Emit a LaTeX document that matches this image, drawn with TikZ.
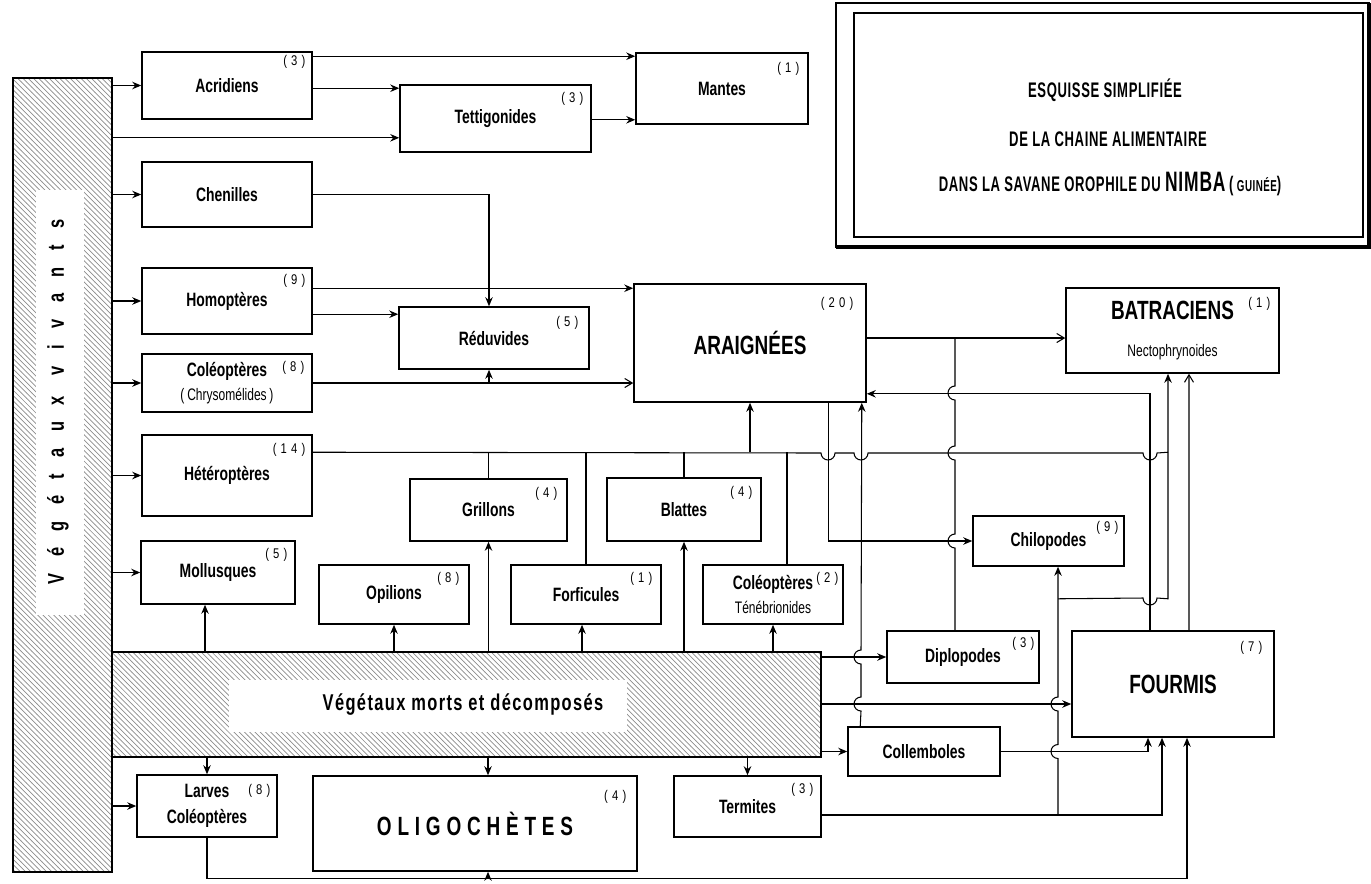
\documentclass[tikz,border=0pt]{standalone}
\usepackage{fontspec}
\setmainfont{Liberation Sans}[FakeStretch=0.72]
\newfontfamily\countfont{Liberation Sans}[FakeStretch=0.8, LetterSpace=30]
\newfontfamily\bandfont{Liberation Sans}[FakeStretch=0.72, LetterSpace=6]
\newfontfamily\columnfont{Liberation Sans}[FakeStretch=0.72, LetterSpace=72]
\newfontfamily\oligofont{Liberation Sans}[FakeStretch=0.72, LetterSpace=22]
\newfontfamily\titlefont{Liberation Sans}[FakeStretch=0.62, LetterSpace=3]
\usepackage{tikz}
\usetikzlibrary{arrows.meta, patterns}
\tikzset{
  % Box styles
  boxnode/.style={rectangle, draw, line width=0.9pt, inner sep=0pt, align=center, font=\bfseries\fontsize{11}{13}\selectfont},
  bignode/.style={boxnode, font=\bfseries\fontsize{15}{18}\selectfont},
  hatchbox/.style={rectangle, draw, line width=0.9pt, inner sep=0pt, pattern=north west lines, pattern color=black!45},
  countlabel/.style={anchor=north east, inner sep=0pt, font=\countfont\fontsize{8}{9}\selectfont},
  titleline/.style={inner sep=0pt, font=\titlefont\bfseries\fontsize{12}{14}\selectfont},
  % Arrow styles
  link/.style={line width=0.6pt},
  arr/.style={-{Stealth[length=1.8mm, width=1.5mm]}, line width=0.6pt},
  openarr/.style={-{Straight Barb[length=1.5mm, width=1.8mm]}, line width=0.6pt}
}
\newcommand\subfont{\mdseries\fontsize{9.5}{11}\selectfont}
% line hops: horizontal dips under, vertical bulges left
\newcommand\hopH[2]{-- ({#1-7},#2) arc[start angle=180, end angle=360, radius=0.14cm]}
\newcommand\hopU[2]{-- (#1,{#2+7}) arc[start angle=270, end angle=90, radius=0.14cm]}
\newcommand\nbr[3][-0.16cm,-0.16cm]{\node[countlabel] at ([shift={(#1)}]#2.north east) {(#3)};}

\begin{document}
\begin{tikzpicture}[x=0.02cm, y=-0.02cm]
  \useasboundingbox (0,0) rectangle (1371,883);

  % Plant reservoirs
  \node[hatchbox, minimum width=1.98cm, minimum height=15.88cm] (vv) at (62.5,475) {};
  \fill[white] (36,190) rectangle (84,615);
  \node[rotate=90, inner sep=0pt, font=\columnfont\bfseries\fontsize{13}{15}\selectfont] at (58,402) {Végétaux vivants};
  \node[hatchbox, minimum width=14.18cm, minimum height=2.1cm] (vm) at (466.5,704.5) {};
  \fill[white] (229,680) rectangle (627,732);
  \node[inner sep=0pt, font=\bandfont\bfseries\fontsize{13}{15}\selectfont] at (463,705) {Végétaux morts et décomposés};

  % Consumers
  \node[boxnode, minimum width=3.4cm, minimum height=1.34cm] (acri) at (227,85.5) {Acridiens};
  \node[boxnode, minimum width=3.82cm, minimum height=1.34cm] (tett) at (495.5,118.5) {Tettigonides};
  \node[boxnode, minimum width=3.44cm, minimum height=1.42cm] (mant) at (722,88.5) {Mantes};
  \node[boxnode, minimum width=3.4cm, minimum height=1.3cm] (chen) at (227,194.5) {Chenilles};
  \node[boxnode, minimum width=3.4cm, minimum height=1.32cm] (homo) at (227,301) {Homoptères};
  \node[boxnode, minimum width=3.8cm, minimum height=1.24cm] (redu) at (494,338) {Réduvides};
  \node[bignode, minimum width=4.64cm, minimum height=2.36cm] (arai) at (750,343) {ARAIGNÉES};
  \node[boxnode, minimum width=3.4cm, minimum height=1.16cm] (colc) at (227,383) {Coléoptères\\[1pt]{\subfont(\,Chrysomélides\,)}};
  \node[boxnode, minimum width=3.4cm, minimum height=1.62cm] (hete) at (227,475.5) {Hétéroptères};
  \node[boxnode, minimum width=3.08cm, minimum height=1.26cm] (moll) at (218,572.5) {Mollusques};
  \node[boxnode, minimum width=3.14cm, minimum height=1.24cm] (gril) at (488.5,510) {Grillons};
  \node[boxnode, minimum width=3.08cm, minimum height=1.26cm] (blat) at (684,509.5) {Blattes};
  \node[boxnode, minimum width=3cm, minimum height=1.18cm] (opil) at (394,594.5) {Opilions};
  \node[boxnode, minimum width=3cm, minimum height=1.18cm] (forf) at (586,594.5) {Forficules};
  \node[boxnode, minimum width=2.8cm, minimum height=1.18cm] (colt) at (773,594.5) {Coléoptères\\[1pt]{\subfont Ténébrionides}};
  \node[boxnode, minimum width=2.8cm, minimum height=1.24cm] (larv) at (207,806) {Larves\\[2pt]Coléoptères};
  \node[boxnode, minimum width=6.48cm, minimum height=1.9cm, font=\oligofont\bfseries\fontsize{15}{18}\selectfont] (olig) at (475,823.5) {OLIGOCHÈTES};
  \node[boxnode, minimum width=2.94cm, minimum height=1.22cm] (term) at (747.5,806.5) {Termites};
  \node[boxnode, minimum width=3.02cm, minimum height=1cm] (chil) at (1048.5,541) {Chilopodes};
  \node[boxnode, minimum width=3.04cm, minimum height=1.04cm] (dipl) at (963,657) {Diplopodes};
  \node[bignode, minimum width=4.04cm, minimum height=2.12cm] (four) at (1173,684) {FOURMIS};
  \node[boxnode, minimum width=3.04cm, minimum height=0.98cm] (coll) at (924,751.5) {Collemboles};
  \node[bignode, minimum width=4.26cm, minimum height=1.7cm] (batr) at (1172.5,330.5) {BATRACIENS\\[3pt]{\subfont Nectophrynoides}};

  % Species counts
  \nbr[-0.14cm,-0.08cm]{acri}{3}
  \nbr{tett}{3}
  \nbr[-0.18cm,-0.2cm]{mant}{1}
  \nbr[-0.14cm,-0.14cm]{homo}{9}
  \nbr[-0.22cm,-0.2cm]{redu}{5}
  \nbr[-0.26cm,-0.28cm]{arai}{20}
  \nbr{colc}{8}
  \nbr[-0.14cm,-0.18cm]{hete}{14}
  \nbr{moll}{5}
  \nbr[-0.2cm,-0.18cm]{gril}{4}
  \nbr[-0.18cm,-0.18cm]{blat}{4}
  \nbr[-0.2cm,-0.16cm]{opil}{8}
  \nbr[-0.18cm,-0.16cm]{forf}{1}
  \nbr[-0.1cm,-0.16cm]{colt}{2}
  \nbr[-0.14cm,-0.2cm]{larv}{8}
  \nbr[-0.22cm,-0.3cm]{olig}{4}
  \nbr{term}{3}
  \nbr[-0.12cm,-0.12cm]{chil}{9}
  \nbr[-0.1cm,-0.14cm]{dipl}{3}
  \nbr[-0.24cm,-0.22cm]{four}{7}
  \nbr[-0.18cm,-0.2cm]{batr}{1}

  % Title
  \draw[line width=0.7pt] (836,3) rectangle (1369,247);
  \draw[line width=2pt] (836,247) -- (1369,247) -- (1369,3);
  \node[draw, line width=0.9pt, minimum width=10.18cm, minimum height=4.48cm] (title) at (1108.5,125) {};
  \node[titleline] (tl1) at (1105,90) {ESQUISSE SIMPLIFIÉE};
  \node[titleline] (tl2) at (1108,139) {DE LA CHAINE ALIMENTAIRE};
  \node[titleline] (tl3) at (1110,184) {DANS LA SAVANE OROPHILE DU {\fontsize{16}{18}\selectfont NIMBA}\,(\,{\fontsize{9}{10}\selectfont GUINÉE})};

  % Entry points
  \coordinate (m1) at ([yshift=-0.08cm]mant.north west);
  \coordinate (t1) at ([yshift=-0.08cm]tett.north west);
  \coordinate (t2) at ([yshift=0.3cm]tett.south west);
  \coordinate (m2) at ([yshift=0.1cm]mant.south west);
  \coordinate (r1) at ([xshift=-0.1cm]redu.north);
  \coordinate (r2) at ([yshift=-0.16cm]redu.north west);
  \coordinate (r3) at ([xshift=-0.1cm]redu.south);
  \coordinate (a1) at ([yshift=-0.1cm]arai.north west);
  \coordinate (a2) at ([yshift=0.1cm]arai.east);
  \coordinate (a3) at ([yshift=0.18cm]arai.south east);
  \coordinate (a4) at ([xshift=-0.76cm]arai.south east);
  \coordinate (a5) at ([xshift=-0.1cm]arai.south east);
  \coordinate (h1) at ([yshift=-0.36cm]hete.north east);
  \coordinate (b1) at ([xshift=-0.09cm]batr.south);
  \coordinate (b2) at ([xshift=0.33cm]batr.south);
  \coordinate (c1) at ([xshift=0.26cm]coll.north west);
  \coordinate (d1) at ([xshift=-0.16cm]dipl.north);
  \coordinate (k1) at ([xshift=0.19cm]chil.south);
  \coordinate (j1) at ([yshift=-0.64cm]k1);
  \coordinate (f1) at ([xshift=-0.46cm]four.north);
  \coordinate (f2) at ([xshift=0.32cm]four.north);
  \coordinate (f3) at ([yshift=-0.4cm]four.west);
  \coordinate (f4) at ([xshift=-0.5cm]four.south);
  \coordinate (f5) at ([xshift=-0.22cm]four.south);
  \coordinate (f6) at ([xshift=0.28cm]four.south);
  \coordinate (e1) at ([yshift=-0.17cm]term.east);
  \coordinate (l1) at ([yshift=-0.82cm]larv.south);
  \coordinate (o1) at ([xshift=0.26cm]olig.south);
  \coordinate (o2) at ([xshift=0.26cm]olig.north);
  \coordinate (s1) at ([xshift=-0.26cm]moll.south);
  \coordinate (s2) at ([xshift=-0.08cm]forf.south);
  \coordinate (s3) at ([xshift=0.28cm]colt.north);

  % Arrows from living plants
  \foreach \n in {acri, chen, homo, colc, hete, moll, larv}
    \draw[arr] (vv.east |- \n.west) -- (\n.west);
  \draw[arr] (vv.east |- t2) -- (t2);

  % Upper chain
  \draw[arr] (acri.east |- m1) -- (m1);
  \draw[arr] (acri.east |- t1) -- (t1);
  \draw[arr] (tett.east |- m2) -- (m2);
  \draw[arr] (chen.east) -| (r1);
  \draw[arr] (homo.east |- a1) -- (a1);
  \draw[arr] (homo.east |- r2) -- (r2);
  \draw[openarr] (colc.east) -- (arai.west |- colc.east);
  \draw[arr] (r3 |- colc.east) -- (r3);

  % Collector line to spiders and frogs
  \draw[link] (h1) \hopH{828}{453} \hopH{861}{453} \hopH{1150}{453} -- (b1 |- h1);
  \draw[arr] (j1) \hopH{1150}{598} -- (b1 |- j1) -- (b1);
  \foreach \n in {gril.north, forf.north, blat.north, s3}
    \draw[link] (\n) -- (\n |- h1);
  \draw[arr] (arai.south |- h1) -- (arai.south);

  % Arrows from dead plants
  \draw[arr] (s1 |- vm.north) -- (s1);
  \draw[arr] (s2 |- vm.north) -- (s2);
  \foreach \n in {opil, gril, blat, colt}
    \draw[arr] (\n.south |- vm.north) -- (\n.south);
  \draw[arr] (larv.north |- vm.south) -- (larv.north);
  \draw[arr] (o2 |- vm.south) -- (o2);
  \draw[arr] (term.north |- vm.south) -- (term.north);
  \draw[arr] (vm.east |- dipl.west) -- (dipl.west);
  \draw[arr] (vm.east |- f3) -- (f3);
  \draw[arr] (vm.east |- coll.west) -- (coll.west);

  % Right side
  \draw[openarr] (a2) -- (batr.west |- a2);
  \draw[arr] (a4) -- (a4 |- chil.west) -- (chil.west);
  \draw[arr] (c1) \hopU{861}{704} \hopU{861}{657} -- (a5);
  \draw[link] (d1) \hopU{955}{541} \hopU{955}{453} \hopU{955}{393} -- (d1 |- a2);
  \draw[arr] (f1) -- (f1 |- a3) -- (a3);
  \draw[openarr] (f2) -- (b2);
  \draw[arr] (coll.east) -| (f4);
  \draw[arr] (e1) -| (f5);
  \draw[arr] (k1 |- e1) \hopU{1058}{751.5} \hopU{1058}{704} -- (k1);
  \draw[arr] (larv.south) -- (l1) -| (f6);
  \draw[arr] (o1 |- l1) -- (o1);
\end{tikzpicture}
\end{document}
